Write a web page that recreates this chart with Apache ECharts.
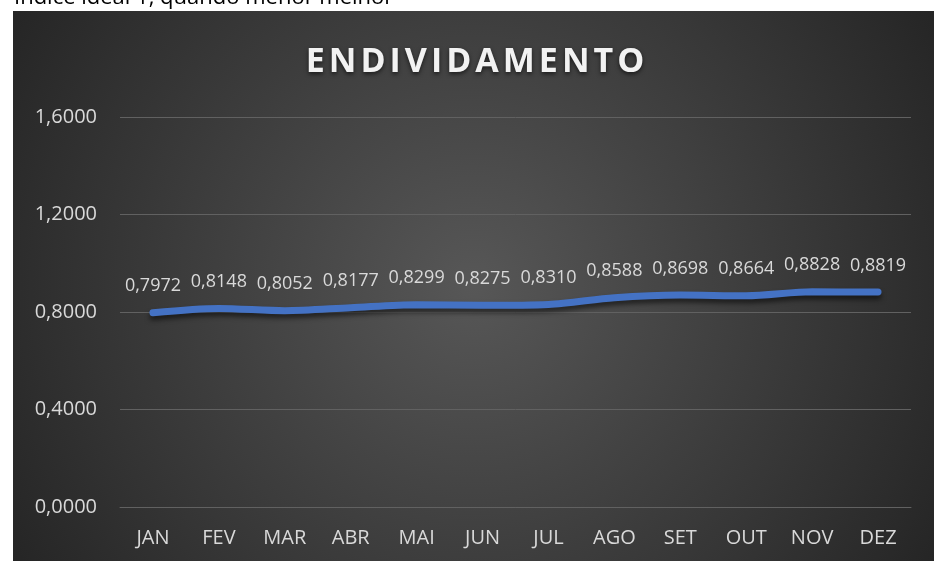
<!DOCTYPE html>
<html lang="pt">
<head>
<meta charset="UTF-8" />
<title>Endividamento</title>
</head>
<body>
<style>
* {
  margin: 0;
  padding: 0;
}
body {
  background: #fff;
  position: relative;
}
#chart {
  width: 934px;
  height: 561px;
}
#titulo {
  position: absolute;
  left: 0;
  width: 954px;
  top: 36px;
  text-align: center;
  font: bold 34px "Open Sans", "Noto Sans", sans-serif;
  letter-spacing: 4px;
  color: #f2f2f2;
  text-shadow: 0 2px 4px rgba(0,0,0,0.6);
  pointer-events: none;
}
</style>
<div id="chart"></div>
<div id="titulo">ENDIVIDAMENTO</div>
<script src="https://cdn.jsdelivr.net/npm/echarts@6/dist/echarts.min.js"></script>
<script>
const meses = ['JAN', 'FEV', 'MAR', 'ABR', 'MAI', 'JUN', 'JUL', 'AGO', 'SET', 'OUT', 'NOV', 'DEZ'];
const endividamento = [0.7972, 0.8148, 0.8052, 0.8177, 0.8299, 0.8275, 0.8310, 0.8588, 0.8698, 0.8664, 0.8828, 0.8819];
const yTicks = [0, 0.4, 0.8, 1.2, 1.6];

const fmt = v => v.toFixed(4).replace('.', ',');
const font = '"Open Sans", "Noto Sans", sans-serif';

const chart = echarts.init(document.getElementById('chart'));
chart.setOption({
  animation: false,
  graphic: [
    {
      // painel escuro
      type: 'rect',
      z: -10,
      silent: true,
      shape: { x: 13, y: 11, width: 921, height: 550 },
      style: {
        fill: {
          type: 'radial',
          x: 0.5, y: 0.5, r: 1,
          colorStops: [
            { offset: 0, color: '#575757' },
            { offset: 1, color: '#242424' }
          ]
        }
      }
    },
    {
      // texto cortado acima do gráfico
      type: 'text',
      left: 14,
      top: -13,
      style: {
        text: 'Índice ideal 1, quando menor melhor',
        fill: '#000',
        font: '22px "Open Sans", "Noto Sans", sans-serif'
      }
    }
  ],
  grid: {
    left: 120,
    right: 23,
    top: 117,
    bottom: 54
  },
  xAxis: {
    type: 'category',
    data: meses,
    axisTick: { show: false },
    axisLine: { lineStyle: { color: '#616161', width: 1 } },
    axisLabel: {
      color: '#d9d9d9',
      fontSize: 20,
      fontFamily: font,
      margin: 21
    }
  },
  yAxis: {
    type: 'value',
    min: yTicks[0],
    max: yTicks[yTicks.length - 1],
    interval: yTicks[1] - yTicks[0],
    axisLine: { show: false },
    axisTick: { show: false },
    splitLine: { lineStyle: { color: '#616161', width: 1 } },
    axisLabel: {
      color: '#d9d9d9',
      fontSize: 20,
      fontFamily: font,
      margin: 23,
      formatter: fmt
    }
  },
  series: [
    {
      type: 'line',
      data: endividamento,
      smooth: 0.3,
      symbol: 'circle',
      symbolSize: 1,
      itemStyle: { color: '#4472c4' },
      lineStyle: {
        color: '#4472c4',
        width: 7,
        cap: 'round',
        shadowColor: 'rgba(0,0,0,0.55)',
        shadowBlur: 5,
        shadowOffsetY: 4
      },
      label: {
        show: true,
        position: 'top',
        distance: 17,
        color: '#d9d9d9',
        fontSize: 18,
        fontFamily: font,
        formatter: p => fmt(p.value)
      },
      labelLayout: { hideOverlap: false }
    }
  ]
});
</script>
</body>
</html>
